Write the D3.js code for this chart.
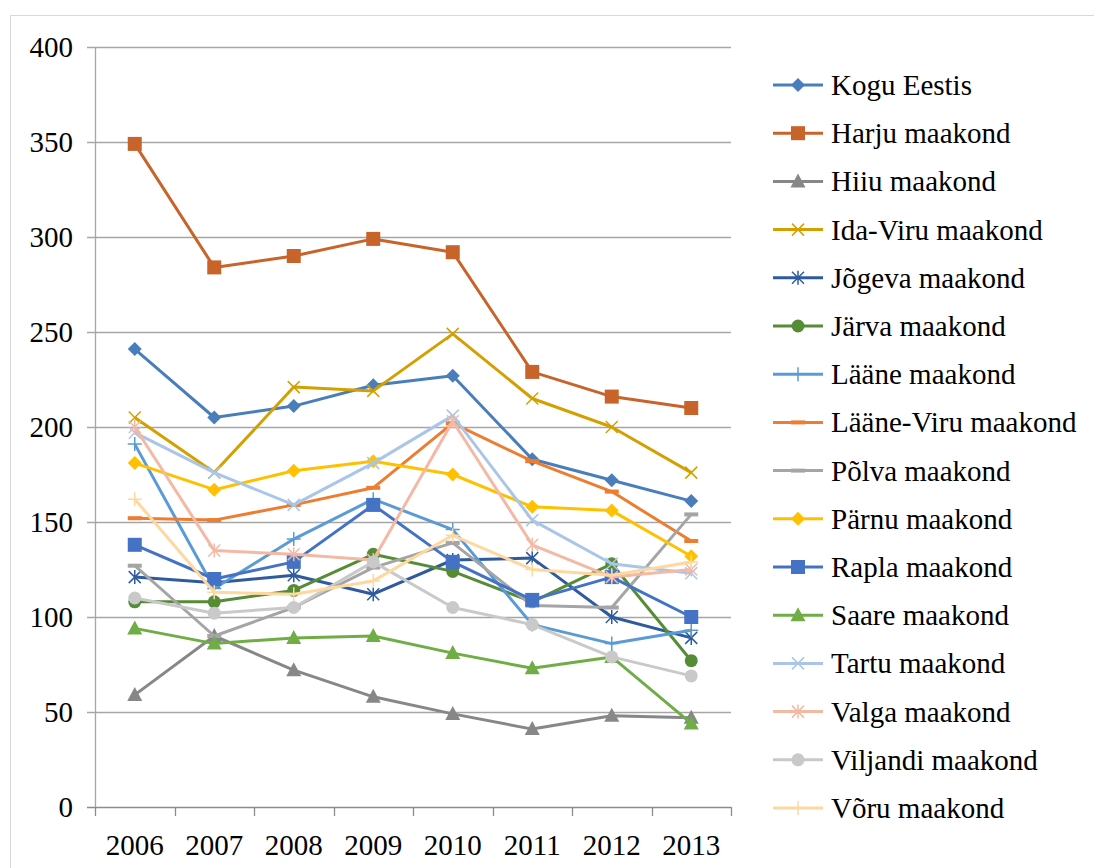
<!DOCTYPE html>
<html>
<head>
<meta charset="utf-8">
<script src="https://cdn.jsdelivr.net/npm/d3@7"></script>
<style>
  body { margin: 0; background: #fff; }
</style>
</head>
<body>
<div id="root"></div>
<script>
const width = 1094;
const height = 868;
const FONT = "Liberation Serif, Times New Roman, serif";

const years = ["2006", "2007", "2008", "2009", "2010", "2011", "2012", "2013"];
const yTicks = [0, 50, 100, 150, 200, 250, 300, 350, 400];

const names = ["Kogu Eestis", "Harju maakond", "Hiiu maakond", "Ida-Viru maakond", "Jõgeva maakond",
  "Järva maakond", "Lääne maakond", "Lääne-Viru maakond", "Põlva maakond", "Pärnu maakond",
  "Rapla maakond", "Saare maakond", "Tartu maakond", "Valga maakond", "Viljandi maakond", "Võru maakond"];

const koguEestis = [241, 205, 211, 222, 227, 183, 172, 161];
const harju = [349, 284, 290, 299, 292, 229, 216, 210];
const hiiu = [59, 90, 72, 58, 49, 41, 48, 47];
const idaViru = [205, 176, 221, 219, 249, 215, 200, 176];
const jogeva = [121, 118, 122, 112, 130, 131, 100, 89];
const jarva = [108, 108, 114, 133, 124, 108, 128, 77];
const laane = [191, 115, 141, 162, 146, 96, 86, 93];
const laaneViru = [152, 151, 159, 168, 202, 182, 166, 140];
const polva = [127, 90, 105, 126, 139, 106, 105, 154];
const parnu = [181, 167, 177, 182, 175, 158, 156, 132];
const rapla = [138, 120, 129, 159, 129, 109, 121, 100];
const saare = [94, 86, 89, 90, 81, 73, 79, 44];
const tartu = [197, 176, 159, 181, 206, 151, 128, 123];
const valga = [200, 135, 133, 130, 203, 138, 121, 125];
const viljandi = [110, 102, 105, 129, 105, 96, 79, 69];
const voru = [162, 113, 112, 119, 143, 125, 122, 129];

const values = [koguEestis, harju, hiiu, idaViru, jogeva, jarva, laane, laaneViru,
  polva, parnu, rapla, saare, tartu, valga, viljandi, voru];

const colors = ["#4a7ebb", "#c8632a", "#878787", "#d4a000", "#2f5b9e", "#578c36",
  "#5b9bd5", "#ed7d31", "#a5a5a5", "#ffc000", "#4472c4", "#70ad47",
  "#a9c6e8", "#f4b9a4", "#c9c9c9", "#ffd8a0"];
const markers = ["diamond", "square", "triangle", "x", "star", "circle", "plus", "dash",
  "dash", "diamond", "square", "triangle", "x", "star", "circle", "plus"];

const series = names.map((n, i) => ({ name: n, values: values[i], color: colors[i], marker: markers[i] }));

const svg = d3.select("#root").append("svg")
  .attr("width", width)
  .attr("height", height)
  .attr("font-family", FONT);

// chart frame
svg.append("rect")
  .attr("x", 10.5).attr("y", 15.5)
  .attr("width", width + 20).attr("height", height + 20)
  .attr("fill", "none").attr("stroke", "#d9d9d9");

const x = d3.scaleBand().domain(years).range([95, 731]);
const y = d3.scaleLinear().domain([0, 400]).range([807, 47]);
const cx = d => x(d) + x.bandwidth() / 2;

// gridlines
svg.append("g")
  .selectAll("line")
  .data(yTicks)
  .enter()
  .append("line")
  .attr("x1", 87).attr("x2", 731)
  .attr("y1", d => Math.round(y(d)) + 0.5)
  .attr("y2", d => Math.round(y(d)) + 0.5)
  .attr("stroke", d => d === 0 ? "#8c8c8c" : "#a6a6a6")
  .attr("stroke-width", 1.3);

// y axis line
svg.append("line")
  .attr("x1", 95.5).attr("x2", 95.5)
  .attr("y1", y(400)).attr("y2", y(0))
  .attr("stroke", "#a6a6a6").attr("stroke-width", 1.3);

// x ticks
svg.append("g")
  .selectAll("line")
  .data(d3.range(years.length + 1))
  .enter()
  .append("line")
  .attr("x1", i => Math.round(95 + i * x.bandwidth()) + 0.5)
  .attr("x2", i => Math.round(95 + i * x.bandwidth()) + 0.5)
  .attr("y1", y(0)).attr("y2", y(0) + 9)
  .attr("stroke", "#8c8c8c").attr("stroke-width", 1.3);

// y labels
svg.append("g")
  .selectAll("text")
  .data(yTicks)
  .enter()
  .append("text")
  .attr("x", 73)
  .attr("y", d => y(d) + 10)
  .attr("text-anchor", "end")
  .attr("font-size", "29px")
  .text(d => d);

// x labels
svg.append("g")
  .selectAll("text")
  .data(years)
  .enter()
  .append("text")
  .attr("x", d => cx(d))
  .attr("y", 855)
  .attr("text-anchor", "middle")
  .attr("font-size", "29px")
  .text(d => d);

function drawMarker(g, type, color, px, py) {
  const s = 7;
  if (type === "diamond") {
    g.append("path").attr("d", `M${px},${py - s}L${px + s},${py}L${px},${py + s}L${px - s},${py}Z`)
      .attr("fill", color);
  } else if (type === "square") {
    g.append("rect").attr("x", px - 7).attr("y", py - 7).attr("width", 14).attr("height", 14)
      .attr("fill", color);
  } else if (type === "triangle") {
    g.append("path").attr("d", `M${px},${py - 8}L${px + 7.5},${py + 6}L${px - 7.5},${py + 6}Z`)
      .attr("fill", color);
  } else if (type === "circle") {
    g.append("circle").attr("cx", px).attr("cy", py).attr("r", 6.5).attr("fill", color);
  } else if (type === "x") {
    g.append("path").attr("d", `M${px - 6},${py - 6}L${px + 6},${py + 6}M${px - 6},${py + 6}L${px + 6},${py - 6}`)
      .attr("stroke", color).attr("stroke-width", 1.5);
  } else if (type === "star") {
    g.append("path").attr("d", `M${px - 6},${py - 6}L${px + 6},${py + 6}M${px - 6},${py + 6}L${px + 6},${py - 6}M${px},${py - 7}L${px},${py + 7}`)
      .attr("stroke", color).attr("stroke-width", 1.5);
  } else if (type === "plus") {
    g.append("path").attr("d", `M${px - 7},${py}L${px + 7},${py}M${px},${py - 7}L${px},${py + 7}`)
      .attr("stroke", color).attr("stroke-width", 1.5);
  } else if (type === "dash") {
    g.append("path").attr("d", `M${px - 7},${py}L${px + 7},${py}`)
      .attr("stroke", color).attr("stroke-width", 4);
  }
}

const line = d3.line()
  .x((d, i) => cx(years[i]))
  .y(d => y(d));

series.forEach(s => {
  const g = svg.append("g");
  g.append("path")
    .attr("d", line(s.values))
    .attr("fill", "none")
    .attr("stroke", s.color)
    .attr("stroke-width", 3)
    .attr("stroke-linejoin", "round");
  s.values.forEach((v, i) => drawMarker(g, s.marker, s.color, cx(years[i]), y(v)));
});

// legend
const legend = svg.append("g").attr("id", "legend");
series.forEach((s, i) => {
  const ly = 85 + i * 48.2;
  const g = legend.append("g");
  g.append("line")
    .attr("x1", 773).attr("x2", 823)
    .attr("y1", ly).attr("y2", ly)
    .attr("stroke", s.color).attr("stroke-width", 3);
  drawMarker(g, s.marker, s.color, 798, ly);
  g.append("text")
    .attr("x", 831)
    .attr("y", ly + 10)
    .attr("font-size", "29px")
    .text(s.name);
});
</script>
</body>
</html>
